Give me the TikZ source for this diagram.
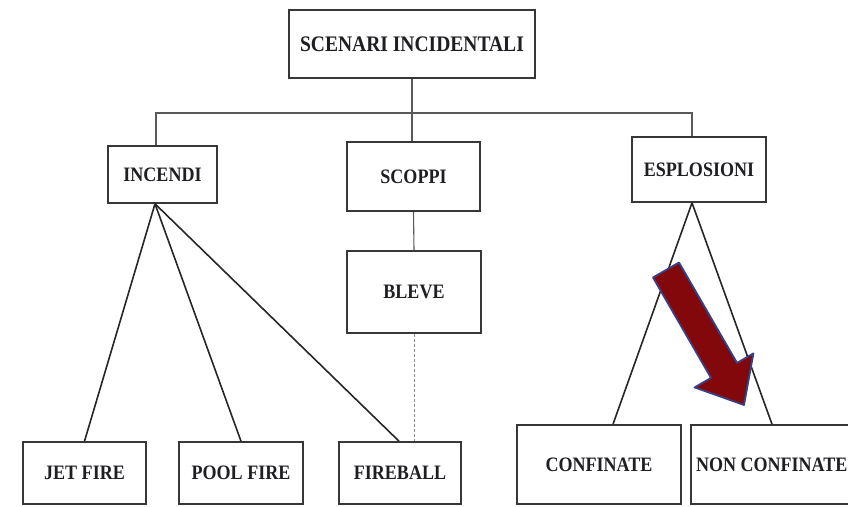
\documentclass[tikz,border=0pt]{standalone}
\usepackage{fontspec}
\newfontfamily\labfont[FakeStretch=0.88]{Liberation Serif}
\usetikzlibrary{calc}
\definecolor{boxline}{RGB}{55,55,55}
\definecolor{txt}{RGB}{30,30,35}
\definecolor{arrowred}{RGB}{130,8,12}
\definecolor{arrowedge}{RGB}{55,65,135}
\tikzset{
  box/.style={draw=boxline, line width=1.6pt, fill=white, inner sep=0pt,
    text=txt, font=\labfont\bfseries\fontsize{20.5}{22}\selectfont},
  conn/.style={draw=black!85, line width=1.6pt},
  thinconn/.style={draw=black!65, line width=1.1pt},
  dashconn/.style={draw=black!45, line width=0.9pt, dashed, dash pattern=on 3pt off 2pt},
}
\begin{document}
\begin{tikzpicture}[x=1pt,y=-1pt]
\useasboundingbox (0,0) rectangle (848,506);
\clip (0,0) rectangle (848,506);
% boxes
\node[box, minimum width=246, minimum height=68, font=\labfont\bfseries\fontsize{22.2}{24}\selectfont] (top) at (412,44) {SCENARI INCIDENTALI};
\node[box, minimum width=109, minimum height=57] (incendi) at (162.5,174.5) {INCENDI};
\node[box, minimum width=133, minimum height=69] (scoppi) at (413.5,176.5) {SCOPPI};
\node[box, minimum width=134, minimum height=65] (esplosioni) at (699,169.5) {ESPLOSIONI};
\node[box, minimum width=134, minimum height=82] (bleve) at (414,292) {BLEVE};
\node[box, minimum width=123, minimum height=62] (jet) at (84.5,473) {JET FIRE};
\node[box, minimum width=124, minimum height=62] (pool) at (241,473) {POOL FIRE};
\node[box, minimum width=122, minimum height=62] (fireball) at (400,473) {FIREBALL};
\node[box, minimum width=164, minimum height=79] (confinate) at (599,464.5) {CONFINATE};
\node[box, minimum width=169, minimum height=79] (nonconf) at (775.5,464.5) {\makebox[169pt][l]{\hspace{5pt}NON CONFINATE}};
% tree connectors
\coordinate (bar) at (412,113);
\draw[thinconn] (top.south) -- (bar);
\draw[thinconn] (bar) -- (scoppi.north -| bar);
\draw[thinconn] ([xshift=-6.5pt]incendi.north) |- (bar) -| ([xshift=-7pt]esplosioni.north);
% incendi fan
\coordinate (iapex) at ([xshift=-7.5pt]incendi.south);
\draw[conn] (iapex) -- (jet.north);
\draw[conn] (iapex) -- (pool.north);
\draw[conn] (iapex) -- ([xshift=-1pt]fireball.north);
% scoppi - bleve - fireball
\draw[thinconn] (scoppi.south) -- (bleve.north);
\draw[dashconn] (bleve.south) -- (bleve.south |- fireball.north);
% esplosioni fan
\coordinate (eapex) at ([xshift=-7pt]esplosioni.south);
\draw[conn] (eapex) -- ([xshift=14pt]confinate.north);
\draw[conn] (eapex) -- ([xshift=-3.5pt]nonconf.north);
% big red arrow
\fill[arrowred, draw=arrowedge, line width=1.8pt, line join=round]
  (653,277.5) -- (679,262.5) -- (737,362.9) -- (753.4,353.4) -- (744,405)
  -- (694.6,387.4) -- (711,377.9) -- cycle;
\end{tikzpicture}
\end{document}
